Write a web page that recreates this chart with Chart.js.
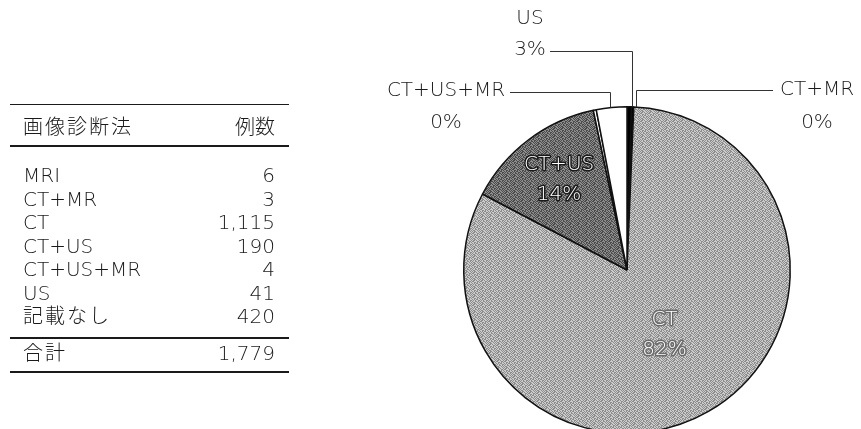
<!DOCTYPE html>
<html lang="ja">
<head>
<meta charset="utf-8">
<script src="https://cdn.jsdelivr.net/npm/chart.js@4.4.0/dist/chart.umd.min.js"></script>
<style>
  html, body { margin: 0; padding: 0; background: #fff; overflow: hidden; }
  body { width: 861px; height: 429px; position: relative; font-family: "DejaVu Sans", "Noto Sans CJK JP", sans-serif; font-weight: 200; color: #1a1a1a; }
  #chartBox { position: absolute; left: 0; top: 0; width: 861px; height: 440px; }
  #table { position: absolute; left: 10px; top: 0; width: 279px; height: 429px; font-size: 20px; z-index: 2; }
  .rule { position: absolute; left: 0; width: 279px; background: #1a1a1a; }
  .cell { position: absolute; height: 24px; line-height: 24px; white-space: nowrap; }
  .name { left: 13px; }
  .name.wide { letter-spacing: 2px; }
  .count { right: 14px; text-align: right; }
</style>
</head>
<body>
<div id="table"></div>
<div id="chartBox"><canvas id="pie"></canvas></div>
<script>
// table rows (記載なし is listed but left out of the pie)
const categories = ['MRI', 'CT+MR', 'CT', 'CT+US', 'CT+US+MR', 'US', '記載なし'];
const counts = [6, 3, 1115, 190, 4, 41, 420];
const headers = ['画像診断法', '例数'];
const totalLabel = '合計';

const pieCategories = categories.slice(0, 6);
const pieCounts = counts.slice(0, 6);

// ---- table ----
const table = document.getElementById('table');
function addRule(y, h) {
    const d = document.createElement('div');
    d.className = 'rule';
    d.style.top = y + 'px';
    d.style.height = h + 'px';
    table.appendChild(d);
}
function addRow(centerY, name, count) {
    const a = document.createElement('div');
    a.className = /[^\x00-\x7f]/.test(name) ? 'cell name wide' : 'cell name';
    a.style.top = (centerY - 12) + 'px';
    a.textContent = name;
    const b = document.createElement('div');
    b.className = 'cell count';
    b.style.top = (centerY - 12) + 'px';
    b.textContent = count;
    table.appendChild(a);
    table.appendChild(b);
}
const fmt = n => n.toLocaleString('en-US');
addRule(104, 1);
addRow(127, headers[0], headers[1]);
addRule(145, 1.5);
categories.forEach((c, i) => addRow(175 + i * 23.5, c, fmt(counts[i])));
addRule(337, 1.5);
addRow(353, totalLabel, fmt(counts.reduce((a, b) => a + b, 0)));
addRule(371, 1.5);

// ---- grainy grey fills ----
const dotMask = [
    '01101001',
    '11000110',
    '00110101',
    '10101100',
    '01010011',
    '10011010',
    '01100101',
    '10110010'
];
function makePattern(dark, light) {
    const size = dotMask.length;
    const c = document.createElement('canvas');
    c.width = size; c.height = size;
    const g = c.getContext('2d');
    for (let y = 0; y < size; y++) {
        for (let x = 0; x < size; x++) {
            g.fillStyle = dotMask[y][x] === '1' ? dark : light;
            g.fillRect(x, y, 1, 1);
        }
    }
    return g.createPattern(c, 'repeat');
}
const ctFill = makePattern('#8c8c8c', '#cccccc');
const ctUsFill = makePattern('#4a4a4a', '#8e8e8e');
const sliceColors = ['#000', '#000', ctFill, ctUsFill, '#fff', '#fff'];

const pieTotal = pieCounts.reduce((a, b) => a + b, 0);
const pct = v => Math.round(v / pieTotal * 100) + '%';

// labels inside the big slices: distance from centre as a share of the radius
const insideLabels = {
    'CT':    { dist: 0.46, stroke: '#6a6a6a' },
    'CT+US': { dist: 0.69, stroke: '#1a1a1a' }
};
// callout labels with elbow leader lines
const outsideLabels = {
    'US':       { nameX: 530, nameY: 19, pctX: 530, pctY: 50, lineX: 550, lineY: 51, elbowDx: 5 },
    'CT+US+MR': { nameX: 446, nameY: 91, pctX: 446, pctY: 123, lineX: 510, lineY: 92, elbowDx: -17 },
    'CT+MR':    { nameX: 817, nameY: 90, pctX: 817, pctY: 123, lineX: 773, lineY: 90, elbowDx: 9 }
};

const labelFont = '200 20px "DejaVu Sans", sans-serif';

const pieLabels = {
    id: 'pieLabels',
    afterDatasetsDraw(chart) {
        const ctx = chart.ctx;
        const arcs = chart.getDatasetMeta(0).data;
        ctx.save();
        ctx.font = labelFont;
        ctx.textAlign = 'center';
        ctx.textBaseline = 'middle';
        arcs.forEach((arc, i) => {
            const name = pieCategories[i];
            const text = pct(pieCounts[i]);
            const inside = insideLabels[name];
            if (inside) {
                const mid = (arc.startAngle + arc.endAngle) / 2;
                const d = arc.outerRadius * inside.dist;
                const x = arc.x + Math.cos(mid) * d;
                const y = arc.y + Math.sin(mid) * d;
                ctx.lineJoin = 'round';
                ctx.lineWidth = 3;
                ctx.strokeStyle = inside.stroke;
                ctx.fillStyle = '#fff';
                ctx.strokeText(name, x, y - 15);
                ctx.fillText(name, x, y - 15);
                ctx.strokeText(text, x, y + 15);
                ctx.fillText(text, x, y + 15);
            }
            const out = outsideLabels[name];
            if (out) {
                const r = arc.outerRadius;
                const ex = arc.x + out.elbowDx;
                const ey = arc.y - Math.sqrt(r * r - out.elbowDx * out.elbowDx);
                ctx.strokeStyle = '#333';
                ctx.lineWidth = 1;
                ctx.beginPath();
                ctx.moveTo(out.lineX, out.lineY + 0.5);
                ctx.lineTo(ex + 0.5, out.lineY + 0.5);
                ctx.lineTo(ex + 0.5, ey);
                ctx.stroke();
                ctx.fillStyle = '#1a1a1a';
                ctx.fillText(name, out.nameX, out.nameY);
                ctx.fillText(text, out.pctX, out.pctY);
            }
        });
        ctx.restore();
    }
};

new Chart(document.getElementById('pie'), {
    type: 'pie',
    data: {
        labels: pieCategories,
        datasets: [{
            data: pieCounts,
            backgroundColor: sliceColors,
            borderColor: '#111',
            borderWidth: 1.5
        }]
    },
    options: {
        responsive: true,
        maintainAspectRatio: false,
        animation: false,
        events: [],
        layout: { padding: { left: 463, right: 70, top: 106, bottom: 6 } },
        plugins: {
            legend: { display: false },
            tooltip: { enabled: false }
        }
    },
    plugins: [pieLabels]
});
</script>
</body>
</html>
